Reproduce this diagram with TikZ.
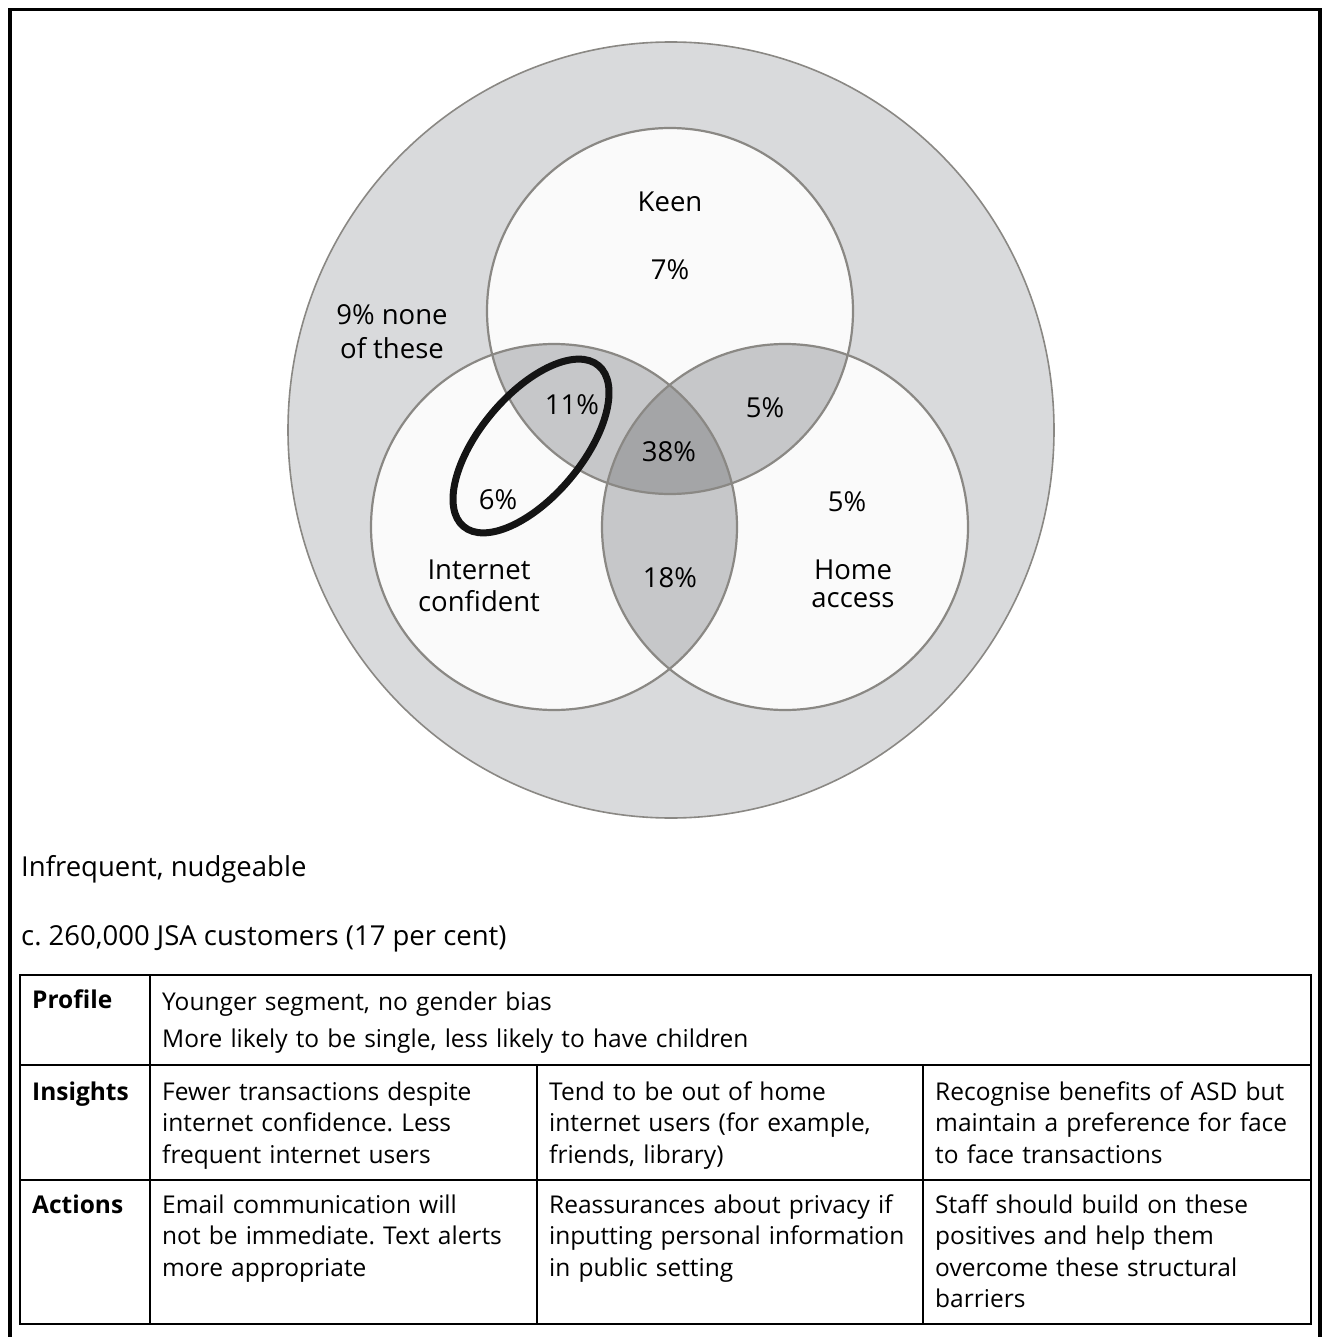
\documentclass[tikz,border=0pt]{standalone}
\usepackage{fontspec}
\setmainfont{Open Sans}
\frenchspacing
\usetikzlibrary{shapes,positioning}

\definecolor{outergray}{HTML}{D9DADC}
\definecolor{setwhite}{HTML}{FAFAFA}
\definecolor{pairgray}{HTML}{C6C7C9}
\definecolor{triplegray}{HTML}{A4A5A7}
\definecolor{rimgray}{HTML}{8A8884}

\newcommand{\setr}{183pt}
\newcommand{\bodyfont}{\fontsize{24.5}{31.5}\selectfont}
\newcommand{\bigfont}{\fontsize{27.5}{32}\selectfont}

\tikzstyle{vtext} = [font=\bigfont, align=center, inner sep=0pt]
\tikzstyle{rim} = [draw=rimgray, line width=2.2pt]
\tikzstyle{rule} = [line width=2.8pt]
\tikzset{
	cell/.style = {font=\bodyfont, align=left, inner sep=0pt, anchor=north west, text width=375pt},
	head/.style = {font=\bodyfont\bfseries, inner sep=0pt, anchor=north west},
	line/.style = {font=\bigfont, inner sep=0pt, anchor=west}
}

\begin{document}
\begin{tikzpicture}[x=1pt, y=-1pt]
    \useasboundingbox (0,0) rectangle (1322,1337);
    % We start by placing the centres of the three sets
    \coordinate (keenc) at (670,311);
    \coordinate (netc) at (554,527);
    \coordinate (homec) at (785,527);

    % outer set and the white discs
    \fill [outergray] (671,430) ellipse [x radius=383pt, y radius=388pt];
    \fill [setwhite] (keenc) circle (\setr);
    \fill [setwhite] (netc) circle (\setr);
    \fill [setwhite] (homec) circle (\setr);

    % overlaps: pairs first, the triple one on top
    \begin{scope}
        \clip (netc) circle (\setr);
        \fill [pairgray] (homec) circle (\setr);
    \end{scope}
    \begin{scope}
        \clip (keenc) circle (\setr);
        \fill [pairgray] (netc) circle (\setr);
        \fill [pairgray] (homec) circle (\setr);
        \clip (netc) circle (\setr);
        \fill [triplegray] (homec) circle (\setr);
    \end{scope}

    % the outlines
    \draw [draw=rimgray, line width=1.6pt] (671,430) ellipse [x radius=383pt, y radius=388pt];
    \draw [rim] (keenc) circle (\setr);
    \draw [rim] (netc) circle (\setr);
    \draw [rim] (homec) circle (\setr);

    % the highlighted segment
    \draw [line width=7pt, black!92, rotate around={50:(531,446)}] (531,446) ellipse [x radius=105pt, y radius=51pt];

    % Labels of the regions
    \node [vtext] (keen) at (670,202) {Keen};
    \node [vtext] (pkeen) at (670,270) {7\%};
    \node [vtext] (none) at (392,332) {9\% none\\[2pt]of these};
    \node [vtext] (pkn) at (572,405) {11\%};
    \node [vtext] (pkh) at (765,408) {5\%};
    \node [vtext] (pall) at (669,452) {38\%};
    \node [vtext] (pnet) at (498,500) {6\%};
    \node [vtext] (phome) at (847,502) {5\%};
    \node [vtext] (net) at (479,586) {Internet\\confident};
    \node [vtext] (pnh) at (670,578) {18\%};
    \node [vtext] (home) at (853,584) {Home\\[-4pt]access};

    % frame, open at the bottom
    \draw [line width=3.5pt] (10,1337) -- (10,9.5) -- (1320,9.5) -- (1320,1337);

    % headings over the table
    \node [line] (title) at (21,869) {Infrequent, nudgeable};
    \node [line] (count) at (21,939) {c. 260,000 JSA customers (17 per cent)};

    % The table
    \draw [rule] (20,975) rectangle (1311,1324);
    \draw [rule] (20,1065) -- (1311,1065);
    \draw [rule] (20,1180) -- (1311,1180);
    \draw [rule] (150,975) -- (150,1324);
    \draw [rule] (537,1065) -- (537,1324);
    \draw [rule] (923,1065) -- (923,1324);

    \node [head] (profile) at (32,986) {\strut Profile};
    \node [head] (insights) at (32,1078) {\strut Insights};
    \node [head] (actions) at (32,1191) {\strut Actions};

    \node [cell, text width=1100pt] (prof) at (162,988) {\strut Younger segment, no gender bias\\[5.5pt]
        More likely to be single, less likely to have children};
    \node [cell] (ins1) at (162,1078) {\strut Fewer transactions despite\\internet confidence. Less\\frequent internet users};
    \node [cell] (ins2) at (549,1078) {\strut Tend to be out of home\\internet users (for example,\\friends, library)};
    \node [cell] (ins3) at (935,1078) {\strut Recognise benefits of ASD but\\maintain a preference for face\\to face transactions};
    \node [cell] (act1) at (162,1191) {\strut Email communication will\\not be immediate. Text alerts\\more appropriate};
    \node [cell] (act2) at (549,1191) {\strut Reassurances about privacy if\\inputting personal information\\in public setting};
    \node [cell] (act3) at (935,1191) {\strut Staff should build on these\\positives and help them\\overcome these structural\\barriers};
\end{tikzpicture}
\end{document}
